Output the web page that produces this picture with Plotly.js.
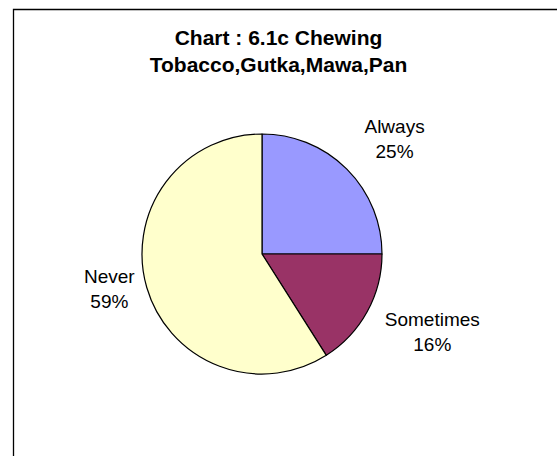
<!DOCTYPE html>
<html>
<head>
<meta charset="utf-8">
<script src="https://cdn.plot.ly/plotly-3.0.1.min.js"></script>
<style>
html, body { margin: 0; padding: 0; background: #ffffff; }
#chart { width: 557px; height: 456px; }
</style>
</head>
<body>
<div id="chart"></div>
<script>
// Data
const categories = ["Always", "Sometimes", "Never"];
const values = [25, 16, 59];
const sliceColors = ["#9999FF", "#993366", "#FFFFCC"];
const chartTitle = "Chart : 6.1c Chewing<br>Tobacco,Gutka,Mawa,Pan";

const W = 557, H = 456;
const cx = 262, cy = 254, r = 120;

// Label templates (a blank spacer line nudges the outside labels away from the pie,
// as in the original chart).
const SP = "\u00a0";
const labelTemplates = [
  "%{label}<br>%{percent:.0%}<br>" + SP,
  SP + "<br>%{label}<br>%{percent:.0%}",
  "%{label}<br>%{percent:.0%}"
];

const trace = {
  type: "pie",
  labels: categories,
  values: values,
  sort: false,
  direction: "clockwise",
  rotation: 0,
  marker: { colors: sliceColors, line: { color: "#000000", width: 1.2 } },
  textposition: "outside",
  texttemplate: labelTemplates,
  textfont: { family: "Liberation Sans, Arial, sans-serif", size: 19, color: "#000000" },
  showlegend: false,
  hoverinfo: "label+percent",
  domain: {
    x: [(cx - r) / W, (cx + r) / W],
    y: [(H - cy - r) / H, (H - cy + r) / H]
  }
};

const layout = {
  width: W,
  height: H,
  margin: { l: 0, r: 0, t: 0, b: 0 },
  paper_bgcolor: "#ffffff",
  plot_bgcolor: "#ffffff",
  title: {
    text: chartTitle,
    x: 0.5,
    xanchor: "center",
    xref: "paper",
    y: 1 - 45 / H,
    yref: "container",
    yanchor: "top",
    font: { family: "Liberation Sans, Arial, sans-serif", size: 21, color: "#000000", weight: "bold" }
  },
  shapes: [{
    type: "rect",
    xref: "paper", yref: "paper",
    x0: 13.5 / W, x1: 1.05,
    y0: -0.05, y1: 1 - 9.5 / H,
    line: { color: "#000000", width: 1.3 },
    fillcolor: "rgba(0,0,0,0)",
    layer: "below"
  }]
};

Plotly.newPlot("chart", [trace], layout, { displayModeBar: false, staticPlot: true });
</script>
</body>
</html>
